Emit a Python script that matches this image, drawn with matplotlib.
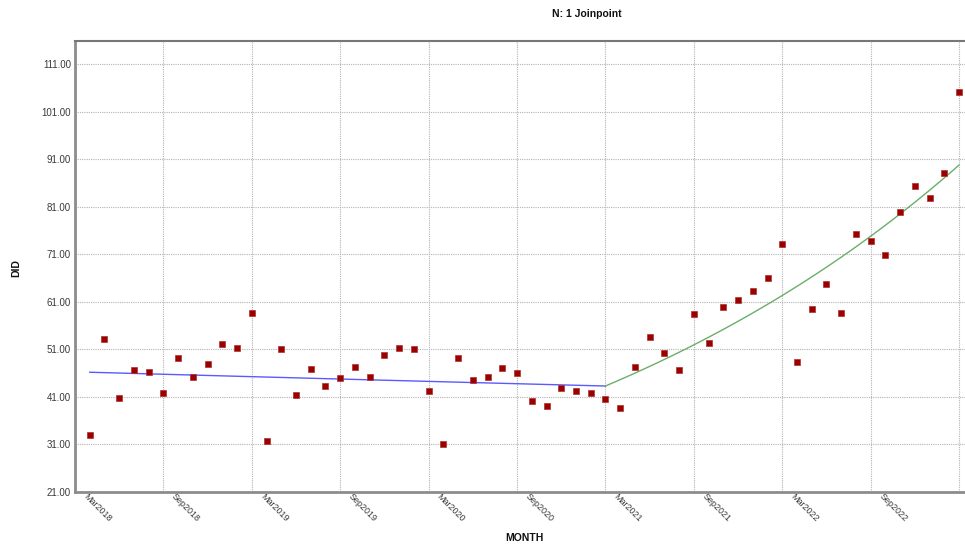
import numpy as np
import matplotlib
matplotlib.use("Agg")
import matplotlib.pyplot as plt
import matplotlib.transforms as mtransforms

plt.rcParams['font.family'] = ['Liberation Sans', 'DejaVu Sans']

# ---- data ----
start_month = "Apr2018"  # first observation
did = [33.0, 53.1, 40.7, 46.6, 46.3, 41.9, 49.1, 45.3, 48.0, 52.1, 51.4, 58.7,
       31.7, 51.0, 41.5, 46.8, 43.3, 44.9, 47.4, 45.3, 49.9, 51.3, 51.1, 42.3,
       31.1, 49.2, 44.6, 45.2, 47.0, 46.1, 40.1, 39.2, 42.8, 42.2, 41.9, 40.6,
       38.6, 47.4, 53.6, 50.3, 46.7, 58.5, 52.3, 60.0, 61.4, 63.3, 66.0, 73.1,
       48.4, 59.4, 64.7, 58.6, 75.3, 73.9, 70.8, 79.9, 85.4, 82.8, 88.2, 105.2]
month_idx = list(range(len(did)))

# joinpoint model: segment ends (month index) and fitted values there (log-linear segments)
joint_idx = [0, 35, 59]
joint_fit = [46.2, 43.3, 89.8]
seg_colors = ['#5a5aff', '#6aae6a']

tick_idx = [-1, 5, 11, 17, 23, 29, 35, 41, 47, 53, 59]
tick_labels = ["Mar2018", "Sep2018", "Mar2019", "Sep2019", "Mar2020", "Sep2020",
               "Mar2021", "Sep2021", "Mar2022", "Sep2022", ""]
y_ticks = [21, 31, 41, 51, 61, 71, 81, 91, 101, 111]

# ---- figure ----
W, H = 965, 548
fig = plt.figure(figsize=(W / 100, H / 100), dpi=100)
ax = fig.add_axes([75 / W, 1 - 492 / H, 1 - 75 / W, (492 - 40.5) / H])

# model segments
for i in range(len(joint_idx) - 1):
    x0, x1 = joint_idx[i], joint_idx[i + 1]
    v0, v1 = joint_fit[i], joint_fit[i + 1]
    xs = np.linspace(x0, x1, 100)
    ys = np.exp(np.log(v0) + (np.log(v1) - np.log(v0)) * (xs - x0) / (x1 - x0))
    ax.plot(xs, ys, color=seg_colors[i], lw=1.0, zorder=3)

ax.plot(month_idx, did, linestyle='none', marker='s', ms=4.2, color='#990000',
        markeredgecolor='#b03030', markeredgewidth=0.5, zorder=4)

ax.set_xlim(-1, 59.4)
ax.set_ylim(21, 116)
ax.set_yticks(y_ticks)
ax.set_yticklabels([f"{v:.2f}" for v in y_ticks])
ax.set_xticks(tick_idx)
ax.set_xticklabels(tick_labels)

ax.grid(True, which='major', axis='both', color='#b4b4b4', linestyle=(0, (1, 1)), linewidth=0.8)
ax.set_axisbelow(True)

ax.tick_params(axis='both', length=0, labelsize=7, labelcolor='#3a3a3a')
ax.tick_params(axis='y', pad=3)
ax.tick_params(axis='x', pad=0)

offset = mtransforms.ScaledTranslation(13 / 100, 0, fig.dpi_scale_trans)
for lab in ax.get_xticklabels():
    lab.set_rotation(-45)
    lab.set_ha('left')
    lab.set_va('top')
    lab.set_rotation_mode('anchor')
    lab.set_fontsize(6.5)
    lab.set_transform(lab.get_transform() + offset)

for s in ['left', 'bottom']:
    ax.spines[s].set_color('#8c8c8c')
    ax.spines[s].set_linewidth(2.0)
ax.spines['top'].set_color('#777777')
ax.spines['top'].set_linewidth(1.5)
ax.spines['right'].set_visible(False)

fig.text(587 / W, 1 - 14 / H, "N: 1 Joinpoint", ha='center', va='center',
         fontsize=7.5, fontweight='bold', color='#111111')
fig.text(524 / W, 1 - 538 / H, "MONTH", ha='center', va='center',
         fontsize=7.5, fontweight='bold', color='#111111')
fig.text(16 / W, 1 - 268 / H, "DID", ha='center', va='center', rotation=90,
         fontsize=7.5, fontweight='bold', color='#111111')

fig.savefig("out.png", dpi=100, facecolor='white')
